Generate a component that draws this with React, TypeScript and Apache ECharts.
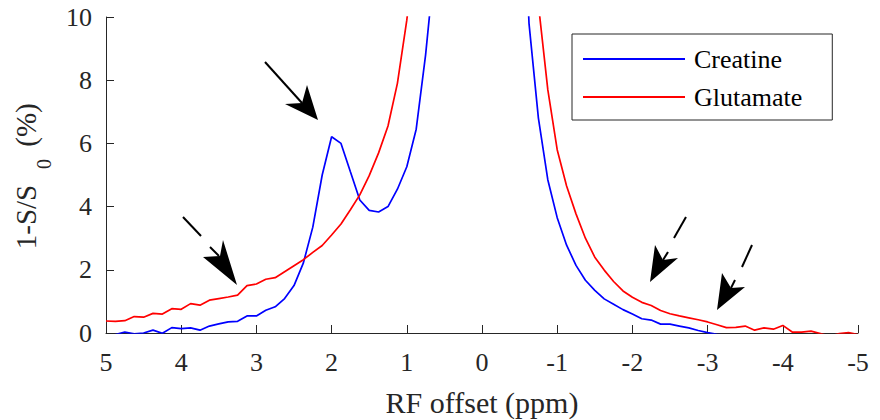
import React, { useEffect, useRef } from "react";
import * as echarts from "echarts";

// RF offset (ppm), sampled every 0.125 ppm from 5 to -5
const offsets = [
  5, 4.875, 4.75, 4.625, 4.5, 4.375, 4.25, 4.125, 4, 3.875, 3.75, 3.625, 3.5, 3.375, 3.25, 3.125,
  3, 2.875, 2.75, 2.625, 2.5, 2.375, 2.25, 2.125, 2, 1.875, 1.75, 1.625, 1.5, 1.375, 1.25, 1.125,
  1, 0.875, 0.75, 0.625, 0.5, 0.375, 0.25, 0.125, 0, -0.125, -0.25, -0.375, -0.5, -0.625, -0.75,
  -0.875, -1, -1.125, -1.25, -1.375, -1.5, -1.625, -1.75, -1.875, -2, -2.125, -2.25, -2.375, -2.5,
  -2.625, -2.75, -2.875, -3, -3.125, -3.25, -3.375, -3.5, -3.625, -3.75, -3.875, -4, -4.125, -4.25,
  -4.375, -4.5, -4.625, -4.75, -4.875, -5,
];

const creatine = [
  -0.1, -0.05, 0.03, -0.03, 0.0, 0.09, -0.01, 0.17, 0.14, 0.16, 0.09, 0.22, 0.29, 0.35, 0.37, 0.54,
  0.54, 0.72, 0.83, 1.09, 1.5, 2.22, 3.35, 5.0, 6.21, 6.0, 5.1, 4.21, 3.88, 3.83, 4.0, 4.55,
  5.26, 6.45, 8.8, 11.8, 17, 26, 40, 55, 65, 55, 40, 27, 17, 9.8, 6.8,
  4.85, 3.65, 2.78, 2.14, 1.67, 1.35, 1.08, 0.91, 0.74, 0.6, 0.45, 0.41, 0.28, 0.28,
  0.22, 0.16, 0.08, 0.01, -0.04, -0.08, -0.1, -0.06, -0.12, -0.1, -0.14, -0.1, -0.15, -0.12,
  -0.16, -0.14, -0.18, -0.15, -0.2, -0.17,
];

const glutamate = [
  0.38, 0.37, 0.39, 0.52, 0.5, 0.62, 0.6, 0.77, 0.75, 0.93, 0.88, 1.04, 1.09, 1.14, 1.2, 1.5,
  1.55, 1.7, 1.75, 1.94, 2.13, 2.32, 2.55, 2.77, 3.1, 3.45, 3.9, 4.37, 4.98, 5.7, 6.55, 7.9,
  9.9, 12.5, 16.5, 22, 30, 42, 58, 75, 85, 75, 58, 42, 27, 15, 10.4,
  7.7, 5.8, 4.65, 3.77, 3.0, 2.4, 1.99, 1.63, 1.33, 1.13, 0.97, 0.87, 0.71, 0.61,
  0.54, 0.48, 0.42, 0.35, 0.26, 0.17, 0.18, 0.22, 0.09, 0.16, 0.12, 0.24, 0.03, 0.03,
  0.06, -0.02, -0.1, -0.02, 0.01, -0.05,
];

const seriesNames = ["Creatine", "Glutamate"];

export default function App() {
  const ref = useRef<HTMLDivElement>(null);

  useEffect(() => {
    if (!ref.current) return;
    const chart = echarts.init(ref.current, null, { renderer: "svg" });
    const font = "Liberation Serif";
    const axisColor = "#262626";

    const arrowLine = (x1: number, y1: number, x2: number, y2: number) => ({
      type: "line",
      shape: { x1, y1, x2, y2 },
      style: { stroke: "#000", lineWidth: 2 },
      z: 10,
    });
    const arrowHead = (pts: number[][]) => ({
      type: "polygon",
      shape: { points: pts },
      style: { fill: "#000" },
      z: 10,
    });
    const rotText = (text: string, x: number, y: number, size: number) => ({
      type: "text",
      x,
      y,
      rotation: Math.PI / 2,
      style: {
        text,
        font: `${size}px "Liberation Serif", serif`,
        fill: axisColor,
        align: "center",
        verticalAlign: "middle",
      },
    });

    chart.setOption({
      animation: false,
      backgroundColor: "#fff",
      textStyle: { fontFamily: font },
      grid: { left: 106, right: 22, top: 17, bottom: 87, containLabel: false, outerBoundsMode: "none" },
      xAxis: {
        type: "value",
        min: -5,
        max: 5,
        interval: 1,
        inverse: true,
        name: "RF offset (ppm)",
        nameLocation: "middle",
        nameGap: 54,
        nameTextStyle: { fontFamily: font, fontSize: 30, color: axisColor },
        axisLine: { show: true, onZero: false, lineStyle: { color: axisColor, width: 1 } },
        axisTick: { show: true, inside: true, length: 8, lineStyle: { color: axisColor, width: 1 } },
        axisLabel: { fontFamily: font, fontSize: 26, color: axisColor, margin: 16 },
        splitLine: { show: false },
      },
      yAxis: {
        type: "value",
        min: 0,
        max: 10,
        interval: 2,
        axisLine: { show: true, onZero: false, lineStyle: { color: axisColor, width: 1 } },
        axisTick: { show: true, inside: true, length: 8, lineStyle: { color: axisColor, width: 1 } },
        axisLabel: { fontFamily: font, fontSize: 26, color: axisColor, margin: 14 },
        splitLine: { show: false },
      },
      legend: {
        orient: "vertical",
        left: 572,
        top: 34,
        padding: [12, 30, 10, 11],
        itemGap: 12,
        itemWidth: 102,
        itemHeight: 2,
        icon: "rect",
        borderColor: axisColor,
        borderWidth: 1,
        borderRadius: 0,
        backgroundColor: "#fff",
        textStyle: { fontFamily: font, fontSize: 26, color: "#000", padding: [0, 0, 0, 4] },
        data: seriesNames,
      },
      series: [
        {
          name: seriesNames[0],
          type: "line",
          data: offsets.map((x, i) => [x, creatine[i]]),
          showSymbol: false,
          symbol: "none",
          clip: true,
          lineStyle: { color: "#0000ff", width: 1.7 },
          itemStyle: { color: "#0000ff" },
        },
        {
          name: seriesNames[1],
          type: "line",
          data: offsets.map((x, i) => [x, glutamate[i]]),
          showSymbol: false,
          symbol: "none",
          clip: true,
          lineStyle: { color: "#ff0000", width: 1.7 },
          itemStyle: { color: "#ff0000" },
        },
      ],
      graphic: [
        rotText("1-S/S", 26, 217, 29),
        rotText("0", 44, 164, 20),
        rotText("(%)", 26, 125, 29),
        // arrow 1 (creatine peak)
        arrowLine(265, 62, 302, 103),
        arrowHead([[318, 120], [285, 104], [302, 103], [307, 85]]),
        // arrow 2
        arrowLine(183, 217, 201, 236),
        arrowLine(210, 247, 219, 256),
        arrowHead([[237, 285], [203, 257], [220, 256], [223, 240]]),
        // arrow 3
        arrowLine(686, 217, 674, 238),
        arrowLine(668, 252, 663, 260),
        arrowHead([[650, 282], [655, 245], [663, 260], [678, 258]]),
        // arrow 4
        arrowLine(752, 245, 742, 267),
        arrowLine(735, 280, 731, 288),
        arrowHead([[717, 310], [722, 273], [731, 288], [745, 287]]),
      ],
    });

    return () => chart.dispose();
  }, []);

  return (
    <div
      ref={ref}
      style={{ position: "fixed", left: 0, top: 0, width: 880, height: 420, background: "#fff" }}
    />
  );
}
